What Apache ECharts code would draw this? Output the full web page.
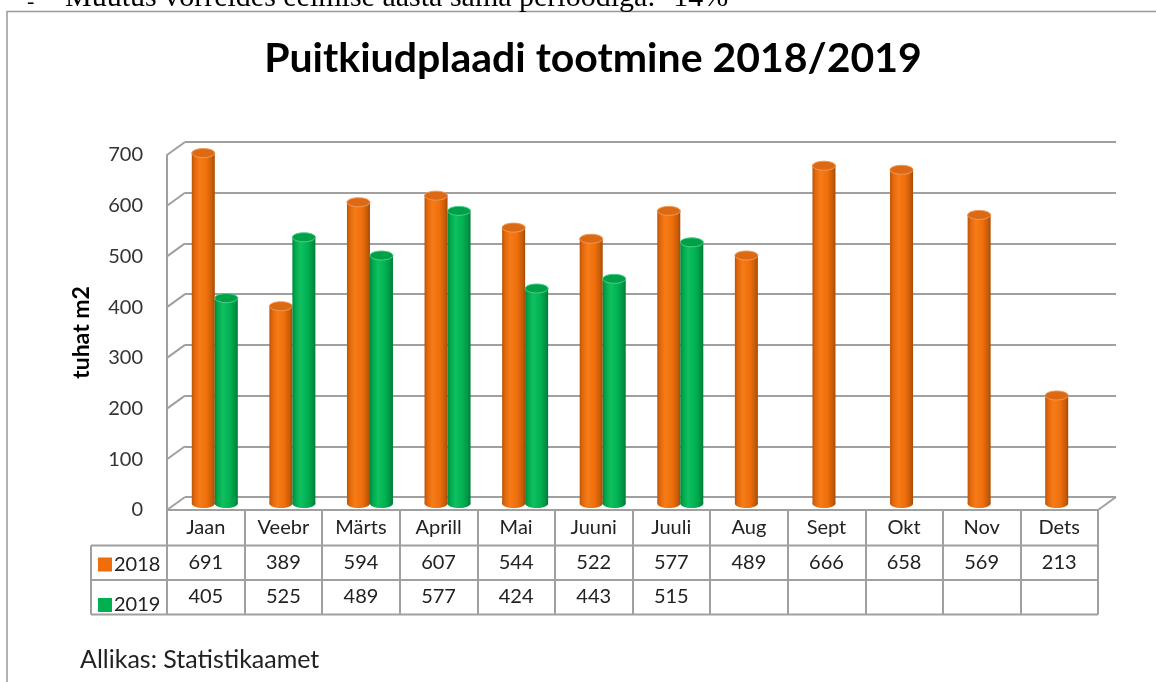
<!DOCTYPE html>
<html><head><meta charset="utf-8">
<script src="https://cdn.jsdelivr.net/npm/echarts@6/dist/echarts.min.js"></script>
<style>html,body{margin:0;padding:0;background:#fff}#c{width:1156px;height:682px}</style>
</head><body><div id="c"></div><script>
// ---- data ----
const months = ['Jaan','Veebr','Märts','Aprill','Mai','Juuni','Juuli','Aug','Sept','Okt','Nov','Dets'];
const values2018 = [691,389,594,607,544,522,577,489,666,658,569,213];
const values2019 = [405,525,489,577,424,443,515,null,null,null,null,null];
const yTicks = [0,100,200,300,400,500,600,700];
const seriesNames = ['2018','2019'];
const titleText = 'Puitkiudplaadi tootmine 2018/2019';
const yName = 'tuhat m2';
const sourceText = 'Allikas: Statistikaamet';
const noteText = 'Müütus võrreldes eelmise aasta sama perioodiga: -14%';

// ---- layout ----
const FL = 167, FT = 155, W = 931, H = 355;   // front plane
const DX = 18, DY = -13;                       // depth offset
const FB = FT + H, FR = FL + W;
const ROW = 34.5;
const BAR_W = 23;
const GRID_COL = '#a0a0a0';
const FONT = 'Lato';

const colorSets = [
  {body: [[0,'#b9530a'],[0.12,'#e2670b'],[0.35,'#f57c18'],[0.65,'#ef6f0c'],[0.88,'#c85c08'],[1,'#a44a06']],
   top: '#dc6a14', topStroke: '#f29a55', solid: '#ef6d0b'},
  {body: [[0,'#00863c'],[0.12,'#00a84b'],[0.35,'#10c060'],[0.65,'#00b252'],[0.88,'#009444'],[1,'#007a36']],
   top: '#00a049', topStroke: '#4cd088', solid: '#00b050'}
];

function grad(stops){
  return new echarts.graphic.LinearGradient(0,0,1,0, stops.map(s=>({offset:s[0], color:s[1]})));
}

function cylinder(sIdx){
  const c = colorSets[sIdx];
  return function(params, api){
    const v = api.value(1);
    if (v == null || isNaN(v)) return null;
    const i = api.value(0);
    const top = api.coord([i, v]);
    const base = api.coord([i, 0]);
    const cx = top[0] + (sIdx === 0 ? -BAR_W/2 : BAR_W/2);
    const rx = BAR_W/2, ry = 4.5;
    return {
      type: 'group',
      children: [
        {type:'ellipse', shape:{cx:cx, cy:base[1], rx:rx, ry:ry}, style:{fill: grad(c.body)}},
        {type:'rect', shape:{x:cx-rx, y:top[1], width:BAR_W, height:base[1]-top[1]}, style:{fill: grad(c.body)}},
        {type:'ellipse', shape:{cx:cx, cy:top[1], rx:rx, ry:ry}, style:{fill:c.top, stroke:c.topStroke, lineWidth:1}}
      ]
    };
  };
}

const chart = echarts.init(document.getElementById('c'), null, {renderer:'canvas'});

const hiddenCat = {type:'category', data: months, show:false};
const hiddenVal = {type:'value', min:0, max:700, interval:100, show:false};
const tableLabel = {fontFamily:FONT, fontSize:20, color:'#222', margin:18, verticalAlign:'middle'};

const option = {
  backgroundColor: '#fff',
  animation: false,
  title: {
    text: titleText, left: 588, textAlign: 'center', top: 33,
    textStyle: {fontFamily: FONT, fontSize: 41, fontWeight: 'bold', color: '#000'}
  },
  legend: {
    data: seriesNames, orient: 'vertical', left: 98, top: FB + ROW + 10, padding: 0,
    icon: 'rect', itemWidth: 14, itemHeight: 14, itemGap: ROW - 14,
    selectedMode: false,
    textStyle: {fontFamily: FONT, fontSize: 20, color: '#222', lineHeight: 14, padding:[0,0,0,-3]}
  },
  grid: [
    {left: FL+DX, top: FT+DY, width: W, height: H},          // back wall
    {left: FL, top: FT, width: W, height: H},                // front plane / table
    {left: FL+DX/2, top: FT+DY/2, width: W, height: H}       // bars (mid depth)
  ],
  xAxis: [
    Object.assign({gridIndex:0}, hiddenCat),
    {gridIndex:1, type:'category', data: months, position:'bottom',
     axisLine:{show:true, lineStyle:{color:GRID_COL, width:2}},
     axisTick:{show:true, length: ROW*3+1, lineStyle:{color:GRID_COL, width:2}},
     axisLabel: tableLabel,
     splitLine:{show:false}},
    Object.assign({gridIndex:2}, hiddenCat),
    {gridIndex:1, type:'category', data: months, position:'bottom', offset: ROW,
     axisLine:{show:false}, axisTick:{show:false},
     axisLabel: Object.assign({}, tableLabel, {
       formatter:(v, idx)=> values2018[idx] == null ? '' : String(values2018[idx])})},
    {gridIndex:1, type:'category', data: months, position:'bottom', offset: ROW*2,
     axisLine:{show:false}, axisTick:{show:false},
     axisLabel: Object.assign({}, tableLabel, {
       formatter:(v, idx)=> values2019[idx] == null ? '' : String(values2019[idx])})}
  ],
  yAxis: [
    {gridIndex:0, type:'value', min:0, max:700, interval:100,
     axisLine:{show:false}, axisTick:{show:false}, axisLabel:{show:false},
     splitLine:{show:true, lineStyle:{color:GRID_COL, width:2}}},
    {gridIndex:1, type:'value', min:0, max:700, interval:100,
     name: yName, nameLocation:'middle', nameGap: 74, nameRotate: 90,
     nameTextStyle:{fontFamily:FONT, fontSize:23, fontWeight:'bold', color:'#000'},
     axisLine:{show:true, lineStyle:{color:GRID_COL, width:2}}, axisTick:{show:false},
     axisLabel:{fontFamily:FONT, fontSize:20, color:'#333', margin:24},
     splitLine:{show:false}},
    Object.assign({gridIndex:2}, hiddenVal)
  ],
  series: [
    {name: seriesNames[0], type:'custom', xAxisIndex:2, yAxisIndex:2,
     itemStyle:{color: colorSets[0].solid},
     renderItem: cylinder(0), data: values2018.map((v,i)=>[i, v]), z: 5},
    {name: seriesNames[1], type:'custom', xAxisIndex:2, yAxisIndex:2,
     itemStyle:{color: colorSets[1].solid},
     renderItem: cylinder(1), data: values2019.map((v,i)=>[i, v == null ? '-' : v]), z: 5}
  ]
};
chart.setOption(option);

// decorative 3D walls / table borders, positioned through the axes
const g = [];
const ln = (x1,y1,x2,y2,col,w)=>({type:'line', shape:{x1,y1,x2,y2}, style:{stroke:col||GRID_COL, lineWidth:w||2}, z: 1, silent:true});
yTicks.forEach(t=>{
  const y = chart.convertToPixel({yAxisIndex:1}, t);
  g.push(ln(FL, y, FL+DX, y+DY));
});
g.push(ln(FR, FB, FR+DX, FB+DY));
// table horizontal lines
for (let r = 1; r <= 3; r++) {
  g.push(ln(91, FB + ROW*r + 1, FR, FB + ROW*r + 1));
}
g.push(ln(91, FB + ROW + 1, 91, FB + ROW*3 + 1));
// frame
g.push({type:'polyline', shape:{points:[[7,682],[7,11.5],[1156,11.5]]}, style:{stroke:'#999', lineWidth:1.5, fill:null}, silent:true});
// source + clipped note
g.push({type:'text', x:80, y:660, style:{text: sourceText, font: '25px Lato', fill:'#222', verticalAlign:'middle'}});
g.push({type:'text', x:27, y:13, style:{text: '-', font: '22px "Liberation Serif"', fill:'#000', verticalAlign:'bottom'}});
g.push({type:'text', x:65, y:13, style:{text: noteText, font: '30px "Liberation Serif"', fill:'#000', verticalAlign:'bottom'}});
chart.setOption({graphic: g});
</script></body></html>
